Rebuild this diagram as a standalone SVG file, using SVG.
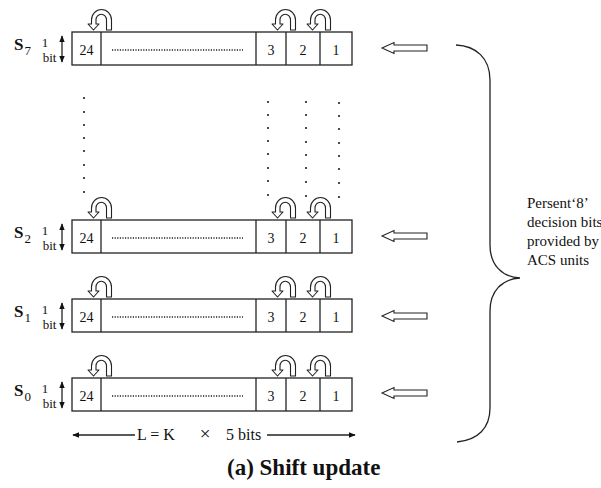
<svg xmlns="http://www.w3.org/2000/svg" xmlns:xlink="http://www.w3.org/1999/xlink" width="601" height="488" viewBox="0 0 601 488">
<style>
.t{font-family:"Liberation Serif","Times New Roman",serif;fill:#111}
.box{fill:#fff;stroke:#222;stroke-width:1.3}
.ln{stroke:#222;stroke-width:1.3;fill:none}
.dot{stroke:#222;stroke-width:1.4;stroke-dasharray:1.2 1.4;fill:none}
.arch{fill:#fff;stroke:#222;stroke-width:1.1;stroke-linejoin:round}
.hol{fill:#fff;stroke:#222;stroke-width:1.1}
.vd{fill:#222}
.lab{font-size:17px;font-weight:bold}
.sub{font-size:13px;font-weight:normal}
</style>
<defs>
<marker id="ah" viewBox="0 0 10 10" refX="9" refY="5" markerWidth="7" markerHeight="7" orient="auto-start-reverse" markerUnits="userSpaceOnUse">
<path d="M0,1 L10,5 L0,9 Z" fill="#111"/>
</marker>
<path id="arch" class="arch" d="M10.5,0 L10.5,-10 A10,10.5 0 0 0 -9.5,-10 L-9.5,-6 L-13,-6 L-7.5,0 L-2,-6 L-5,-6 L-5,-10 A5,5.5 0 0 1 5.5,-10 L5.5,0 Z"/>
<g id="reg">
<rect class="box" x="72" y="0" width="280" height="33"/>
<line class="ln" x1="101" y1="0" x2="101" y2="33"/>
<line class="ln" x1="256" y1="0" x2="256" y2="33"/>
<line class="ln" x1="286" y1="0" x2="286" y2="33"/>
<line class="ln" x1="320" y1="0" x2="320" y2="33"/>
<line class="dot" x1="112" y1="18" x2="243" y2="18"/>
<text class="t" x="86.5" y="22.5" font-size="14" text-anchor="middle">24</text>
<text class="t" x="271" y="22.5" font-size="14" text-anchor="middle">3</text>
<text class="t" x="303" y="22.5" font-size="14" text-anchor="middle">2</text>
<text class="t" x="336" y="22.5" font-size="14" text-anchor="middle">1</text>
<use xlink:href="#arch" x="101" y="-2"/>
<use xlink:href="#arch" x="285" y="-2"/>
<use xlink:href="#arch" x="320" y="-2"/>
<text class="t" x="45" y="15" font-size="13" text-anchor="middle">1</text>
<text class="t" x="49.5" y="30" font-size="13" text-anchor="middle">bit</text>
<line class="ln" x1="62" y1="4" x2="62" y2="30" marker-start="url(#ah)" marker-end="url(#ah)" stroke-width="1.8"/>
</g>
</defs>

<g id="s7">
<use xlink:href="#reg" y="32"/>
<text class="t lab" x="14" y="50">S<tspan class="sub" dx="1" dy="5">7</tspan></text>
</g>
<g id="s2">
<use xlink:href="#reg" y="220"/>
<text class="t lab" x="14" y="238">S<tspan class="sub" dx="1" dy="5">2</tspan></text>
</g>
<g id="s1">
<use xlink:href="#reg" y="299"/>
<text class="t lab" x="14" y="317">S<tspan class="sub" dx="1" dy="5">1</tspan></text>
</g>
<g id="s0">
<use xlink:href="#reg" y="378"/>
<text class="t lab" x="14" y="396">S<tspan class="sub" dx="1" dy="5">0</tspan></text>
</g>

<g id="ellipsis">
<g class="vd">
<circle cx="84" cy="98" r="1.1"/><circle cx="84" cy="112" r="1.1"/><circle cx="84" cy="125" r="1.1"/><circle cx="84" cy="138" r="1.1"/><circle cx="84" cy="151" r="1.1"/><circle cx="84" cy="165" r="1.1"/><circle cx="84" cy="178" r="1.1"/><circle cx="84" cy="192" r="1.1"/>
<circle cx="268" cy="102" r="1.1"/><circle cx="268" cy="115" r="1.1"/><circle cx="268" cy="128" r="1.1"/><circle cx="268" cy="141" r="1.1"/><circle cx="268" cy="154" r="1.1"/><circle cx="268" cy="168" r="1.1"/><circle cx="268" cy="181" r="1.1"/><circle cx="268" cy="195" r="1.1"/>
<circle cx="306" cy="102" r="1.1"/><circle cx="306" cy="115" r="1.1"/><circle cx="306" cy="128" r="1.1"/><circle cx="306" cy="142" r="1.1"/><circle cx="306" cy="155" r="1.1"/><circle cx="306" cy="168" r="1.1"/><circle cx="306" cy="182" r="1.1"/><circle cx="306" cy="196" r="1.1"/>
<circle cx="339" cy="103" r="1.1"/><circle cx="339" cy="116" r="1.1"/><circle cx="339" cy="129" r="1.1"/><circle cx="339" cy="143" r="1.1"/><circle cx="339" cy="156" r="1.1"/><circle cx="339" cy="169" r="1.1"/><circle cx="339" cy="183" r="1.1"/><circle cx="339" cy="197" r="1.1"/>
</g>
</g>

<g id="connectors">
<polygon class="hol" points="382,48 394,42.5 394,45 427,45 427,51 394,51 394,53.5"/>
<polygon class="hol" points="382,236 394,230.5 394,233 427,233 427,239 394,239 394,241.5"/>
<polygon class="hol" points="382,316 394,310.5 394,313 427,313 427,319 394,319 394,321.5"/>
<polygon class="hol" points="382,393 394,387.5 394,390 427,390 427,396 394,396 394,398.5"/>
<path class="ln" d="M456,45 C476,46 490,58 490,80 L490,245 C490,265 502,277 520,278 C502,279 490,291 490,311 L490,408 C490,428 478,440 457,442"/>
<line class="ln" x1="135" y1="435" x2="73" y2="435" marker-end="url(#ah)"/>
<line class="ln" x1="267" y1="435" x2="355" y2="435" marker-end="url(#ah)"/>
</g>

<g id="labels">
<text class="t" x="137" y="440" font-size="16">L = K</text>
<text class="t" x="205" y="440" font-size="19" text-anchor="middle">×</text>
<text class="t" x="226" y="440" font-size="16">5 bits</text>
<text class="t" x="527" y="208" font-size="15">Persent‘8’</text>
<text class="t" x="527" y="227" font-size="15">decision bits</text>
<text class="t" x="527" y="246" font-size="15">provided by</text>
<text class="t" x="527" y="265" font-size="15">ACS units</text>
<text class="t" x="227" y="475" font-size="23" font-weight="bold">(a) Shift update</text>
</g>
</svg>
